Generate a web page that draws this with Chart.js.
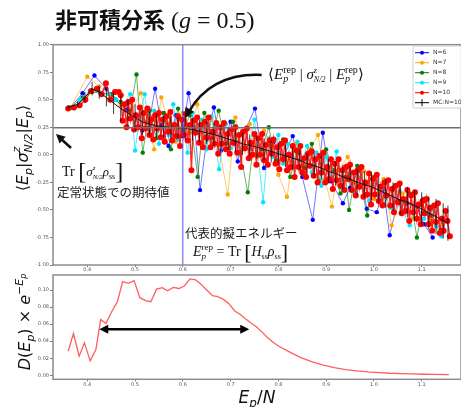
<!DOCTYPE html>
<html><head><meta charset="utf-8">
<script src="https://cdn.jsdelivr.net/npm/chart.js@4.4.1/dist/chart.umd.min.js"></script>
<style>
body{margin:0;background:#fff;width:461px;height:407px;overflow:hidden;position:relative}
#top{position:absolute;left:0;top:0;width:461px;height:275px}
#bot{position:absolute;left:0;top:265px;width:461px;height:142px}
</style></head><body>
<div id="top"><canvas id="c1"></canvas></div>
<div id="bot"><canvas id="c2"></canvas></div>
<script>
// ===== DATA =====
const xTicks = [0.4, 0.5, 0.6, 0.7, 0.8, 0.9, 1.0, 1.1];
const yTicksTop = [-1, -0.75, -0.5, -0.25, 0, 0.25, 0.5, 0.75, 1];
const yTicksBottom = [0, 0.02, 0.04, 0.06, 0.08, 0.10];
const seriesNames = ['N=6', 'N=7', 'N=8', 'N=9', 'N=10', 'MC:N=10'];

// [E_p/N, <E_p|sigma|E_p>]
const n6 = [[0.365,0.43],[0.39,0.56],[0.415,0.72],[0.44,0.60],[0.46,0.50],[0.48,0.41],[0.50,0.36],[0.515,0.22],[0.53,0.31],[0.542,0.60],[0.555,0.27],[0.57,0.08],[0.585,0.36],[0.598,0.17],[0.612,0.56],[0.625,0.24],[0.636,-0.32],[0.65,0.14],[0.665,0.43],[0.68,0.04],[0.70,0.30],[0.715,-0.06],[0.73,0.22],[0.751,0.42],[0.77,-0.12],[0.79,0.12],[0.81,-0.03],[0.83,0.17],[0.85,-0.20],[0.872,-0.59],[0.893,0.20],[0.91,-0.24],[0.935,-0.44],[0.95,-0.30],[0.97,-0.12],[0.985,-0.49],[1.006,-0.52],[1.02,-0.31],[1.033,-0.73],[1.05,-0.42],[1.07,-0.44],[1.09,-0.47],[1.105,-0.63],[1.123,-0.75]];
const n7 = [[0.365,0.43],[0.40,0.71],[0.425,0.62],[0.45,0.52],[0.47,0.45],[0.49,0.38],[0.512,0.56],[0.525,0.30],[0.54,0.05],[0.555,0.52],[0.57,0.28],[0.585,0.12],[0.60,0.38],[0.615,0.20],[0.63,0.46],[0.645,0.10],[0.66,0.32],[0.675,0.08],[0.694,-0.36],[0.71,0.34],[0.725,0.05],[0.74,0.28],[0.755,-0.02],[0.77,0.22],[0.785,0.08],[0.80,-0.18],[0.818,-0.38],[0.835,0.10],[0.85,-0.10],[0.865,0.05],[0.883,0.18],[0.897,-0.22],[0.912,-0.47],[0.925,-0.14],[0.945,-0.02],[0.96,-0.25],[0.98,-0.15],[1.00,-0.40],[1.02,-0.22],[1.037,-0.64],[1.06,-0.35],[1.08,-0.58],[1.10,-0.45],[1.12,-0.60],[1.14,-0.70]];
const n8 = [[0.365,0.43],[0.39,0.52],[0.41,0.57],[0.43,0.56],[0.45,0.55],[0.47,0.48],[0.49,0.40],[0.503,0.73],[0.516,0.02],[0.53,0.40],[0.545,0.15],[0.56,0.38],[0.575,0.05],[0.59,0.42],[0.60,0.22],[0.615,0.36],[0.631,-0.20],[0.645,0.38],[0.66,0.15],[0.675,0.40],[0.69,0.10],[0.705,0.30],[0.72,0.02],[0.736,-0.34],[0.75,0.18],[0.765,0.05],[0.78,0.25],[0.795,-0.05],[0.81,0.14],[0.825,-0.20],[0.84,0.02],[0.855,-0.12],[0.87,0.10],[0.885,-0.24],[0.90,0.05],[0.915,-0.14],[0.93,-0.35],[0.941,-0.20],[0.948,-0.50],[0.965,-0.10],[0.986,-0.55],[1.00,-0.20],[1.02,-0.45],[1.04,-0.30],[1.06,-0.52],[1.075,-0.35],[1.09,-0.75],[1.105,-0.40],[1.12,-0.55],[1.14,-0.68]];
const n9 = [[0.365,0.43],[0.385,0.50],[0.405,0.58],[0.425,0.57],[0.445,0.55],[0.46,0.50],[0.475,0.45],[0.49,0.55],[0.50,0.04],[0.51,0.35],[0.52,0.55],[0.53,0.22],[0.54,0.40],[0.55,0.10],[0.56,0.30],[0.57,0.18],[0.58,0.46],[0.59,0.14],[0.60,0.30],[0.61,0.02],[0.62,0.38],[0.63,0.20],[0.64,0.32],[0.65,0.05],[0.66,0.35],[0.676,-0.13],[0.69,0.28],[0.70,0.06],[0.71,0.26],[0.72,0.00],[0.73,0.22],[0.74,0.05],[0.75,0.32],[0.768,-0.43],[0.78,0.15],[0.79,-0.02],[0.80,0.18],[0.81,-0.08],[0.82,0.10],[0.83,-0.12],[0.84,0.12],[0.85,-0.05],[0.86,0.08],[0.87,-0.16],[0.88,0.02],[0.89,-0.28],[0.90,-0.02],[0.91,-0.20],[0.922,0.03],[0.93,-0.30],[0.94,-0.12],[0.95,-0.18],[0.96,-0.35],[0.969,-0.15],[0.98,-0.27],[0.99,-0.42],[1.00,-0.25],[1.01,-0.38],[1.02,-0.30],[1.035,-0.48],[1.054,-0.33],[1.06,-0.52],[1.075,-0.64],[1.09,-0.45],[1.105,-0.58],[1.12,-0.50],[1.13,-0.65],[1.141,-0.74]];
const n10 = [[0.360,0.42],[0.372,0.43],[0.384,0.45],[0.396,0.50],[0.408,0.58],[0.420,0.60],[0.430,0.55],[0.439,0.65],[0.448,0.50],[0.458,0.57],[0.466,0.57],
  [0.470,0.54],[0.474,0.31],[0.478,0.46],[0.482,0.25],[0.486,0.48],[0.490,0.33],[0.494,0.50],[0.498,0.23],[0.502,0.36],[0.506,0.25],
  [0.510,0.43],[0.514,0.15],[0.518,0.38],[0.522,0.24],[0.526,0.42],[0.530,0.18],[0.534,0.32],[0.538,0.14],[0.542,0.36],[0.546,0.24],
  [0.550,0.38],[0.554,0.16],[0.558,0.32],[0.562,0.12],[0.566,0.35],[0.570,0.21],[0.574,0.39],[0.578,0.13],[0.582,0.27],[0.586,0.17],
  [0.590,0.35],[0.594,0.08],[0.598,0.32],[0.602,0.18],[0.606,0.37],[0.610,0.13],[0.614,0.27],[0.618,-0.14],[0.622,0.31],[0.626,0.20],
  [0.630,0.34],[0.634,0.11],[0.638,0.27],[0.642,0.07],[0.646,0.30],[0.650,0.16],[0.654,0.34],[0.658,0.07],[0.662,0.21],[0.666,0.10],
  [0.670,0.29],[0.674,0.01],[0.678,0.25],[0.682,0.10],[0.686,0.29],[0.690,0.05],[0.694,0.19],[0.698,0.01],[0.702,0.23],[0.706,0.11],
  [0.710,0.25],[0.714,0.02],[0.718,0.18],[0.722,-0.11],[0.726,0.21],[0.730,0.06],[0.734,0.24],[0.738,-0.03],[0.742,0.11],[0.746,0.00],
  [0.750,0.19],[0.754,-0.09],[0.758,0.15],[0.762,0.00],[0.766,0.19],[0.770,-0.05],[0.774,0.09],[0.778,-0.09],[0.782,0.13],[0.786,0.01],
  [0.790,0.14],[0.794,-0.08],[0.798,0.07],[0.802,-0.13],[0.806,0.10],[0.810,-0.04],[0.814,0.13],[0.818,-0.14],[0.822,0.00],[0.826,-0.11],
  [0.830,0.08],[0.834,-0.20],[0.838,0.04],[0.842,-0.11],[0.846,0.08],[0.850,-0.16],[0.854,-0.03],[0.858,-0.20],[0.862,0.01],[0.866,-0.10],
  [0.870,0.03],[0.874,-0.19],[0.878,-0.04],[0.882,-0.25],[0.886,-0.01],[0.890,-0.16],[0.894,0.02],[0.898,-0.25],[0.902,-0.11],[0.906,-0.22],
  [0.910,-0.04],[0.914,-0.31],[0.918,-0.08],[0.922,-0.23],[0.926,-0.04],[0.930,-0.28],[0.934,-0.14],[0.938,-0.32],[0.942,-0.11],[0.946,-0.22],
  [0.950,-0.09],[0.954,-0.32],[0.958,-0.16],[0.962,-0.37],[0.966,-0.14],[0.970,-0.29],[0.974,-0.11],[0.978,-0.38],[0.982,-0.25],[0.986,-0.36],
  [0.990,-0.17],[0.994,-0.45],[0.998,-0.22],[1.002,-0.36],[1.006,-0.18],[1.010,-0.42],[1.014,-0.29],[1.018,-0.46],[1.022,-0.25],[1.026,-0.37],
  [1.030,-0.23],[1.034,-0.46],[1.038,-0.31],[1.042,-0.52],[1.046,-0.28],[1.050,-0.43],[1.054,-0.26],[1.058,-0.53],[1.062,-0.40],[1.066,-0.51],
  [1.070,-0.32],[1.074,-0.60],[1.078,-0.37],[1.082,-0.52],[1.086,-0.34],[1.090,-0.58],[1.094,-0.45],[1.098,-0.63],[1.102,-0.42],[1.106,-0.53],
  [1.110,-0.40],[1.114,-0.63],[1.118,-0.48],[1.122,-0.69],[1.126,-0.46],[1.130,-0.61],[1.134,-0.44],[1.138,-0.71],[1.142,-0.58],[1.146,-0.69],
  [1.150,-0.51],[1.154,-0.60],[1.159,-0.74]];
// MC N=10: [E_p/N, mean, error]
const mc = [[0.360,0.43,0.02],[0.380,0.46,0.03],[0.395,0.52,0.05],[0.410,0.60,0.06],[0.425,0.57,0.06],[0.440,0.52,0.08],[0.455,0.47,0.10],[0.470,0.42,0.12],[0.485,0.38,0.12],[0.500,0.34,0.12],[0.515,0.30,0.12],[0.530,0.28,0.11],[0.545,0.265,0.11],[0.560,0.255,0.10],[0.575,0.25,0.10],[0.590,0.245,0.10],[0.605,0.24,0.10],[0.620,0.23,0.10],[0.635,0.215,0.10],[0.650,0.20,0.10],[0.665,0.185,0.10],[0.680,0.165,0.10],[0.695,0.145,0.10],[0.710,0.125,0.10],[0.725,0.10,0.10],[0.740,0.085,0.10],[0.755,0.07,0.10],[0.770,0.05,0.10],[0.785,0.03,0.10],[0.800,0.01,0.10],[0.815,-0.01,0.10],[0.830,-0.03,0.10],[0.845,-0.05,0.10],[0.860,-0.08,0.10],[0.875,-0.10,0.11],[0.890,-0.12,0.11],[0.905,-0.15,0.11],[0.920,-0.17,0.11],[0.935,-0.20,0.11],[0.950,-0.22,0.12],[0.965,-0.25,0.12],[0.980,-0.27,0.12],[0.995,-0.29,0.12],[1.010,-0.32,0.12],[1.025,-0.35,0.13],[1.040,-0.38,0.13],[1.055,-0.41,0.13],[1.070,-0.43,0.14],[1.085,-0.46,0.14],[1.100,-0.49,0.15],[1.115,-0.53,0.15],[1.130,-0.56,0.16],[1.145,-0.60,0.16],[1.155,-0.62,0.16]];
const ssValue = 0.245;   // Tr[sigma rho_ss]
const repEnergy = 0.6;   // E_p^rep / N

// D(E_p) x e^{-E_p}
const densX = [0.360,0.371,0.383,0.394,0.406,0.418,0.428,0.439,0.451,0.463,0.474,0.486,0.498,0.510,0.522,0.533,0.545,0.557,0.568,0.580,0.592,0.603,0.615,0.627,0.638,0.650,0.662,0.673,0.685,0.696,0.708,0.719,0.731,0.742,0.754,0.766,0.777,0.789,0.801,0.824,0.847,0.871,0.894,0.917,0.941,0.964,0.987,1.010,1.033,1.056,1.080,1.103,1.126,1.157];
const densY = [0.0282,0.0490,0.0224,0.0380,0.0169,0.0302,0.0655,0.0608,0.0745,0.0863,0.1098,0.1078,0.1110,0.0910,0.0875,0.0863,0.1010,0.1027,0.0992,0.1031,0.1018,0.1047,0.1130,0.1118,0.1067,0.1000,0.0933,0.0922,0.0890,0.0843,0.0757,0.0718,0.0663,0.0616,0.0569,0.0506,0.0443,0.0388,0.0341,0.0271,0.0208,0.0157,0.0118,0.0090,0.0067,0.0051,0.0039,0.0031,0.0024,0.0020,0.0016,0.0012,0.0010,0.0008];

// ===== STYLE =====
const colors = ['#0000ff', '#ffa500', '#008000', '#00e5ff', '#ff0000', '#000000'];
const lineColors = ['rgba(0,0,255,0.55)', 'rgba(255,165,0,0.6)', 'rgba(0,128,0,0.6)', 'rgba(0,229,255,0.7)', 'rgba(255,0,0,0.85)'];
const SERIF = '"Liberation Serif"', SANS = '"DejaVu Sans"', JP = '"Noto Sans CJK JP"';

const P = (t, f, dy, keep) => ({ t, f, dy: dy || 0, keep });
function rich(ctx, x, y, parts, align) {
  let w = 0, kw = 0;
  parts.forEach(p => {
    ctx.font = p.f; p.w = ctx.measureText(p.t).width;
    if (p.keep) kw = p.w; else { p.adv = Math.max(p.w, kw); kw = 0; w += p.adv; }
  });
  let cx = align === 'center' ? x - w / 2 : x;
  ctx.textAlign = 'left';
  parts.forEach(p => {
    ctx.font = p.f; ctx.fillText(p.t, cx, y + p.dy);
    if (!p.keep) cx += p.adv;
  });
}
function arrowHead(ctx, x, y, ang, len, wid) {
  ctx.save(); ctx.translate(x, y); ctx.rotate(ang);
  ctx.beginPath(); ctx.moveTo(0, 0); ctx.lineTo(-len, -wid); ctx.lineTo(-len, wid); ctx.closePath();
  ctx.fill(); ctx.restore();
}
function frame(ctx, a) {
  ctx.save(); ctx.strokeStyle = '#8c8c8c'; ctx.lineWidth = 1.5;
  ctx.strokeRect(a.left, a.top, a.right - a.left, a.bottom - a.top); ctx.restore();
}
const noPad = s => { s.paddingLeft = 0; s.paddingRight = 0; s.paddingTop = 0; s.paddingBottom = 0; };

function xScale(fit) {
  return {
    type: 'linear', min: 0.3282, max: 1.1823,
    afterBuildTicks: s => { s.ticks = xTicks.map(v => ({ value: v })); },
    afterFit: s => { s.height = fit; noPad(s); },
    ticks: { font: { size: 5, family: 'DejaVu Sans' }, color: '#555', padding: 0, maxRotation: 0, autoSkip: false, callback: v => v.toFixed(1) },
    grid: { drawOnChartArea: false, tickLength: 2, color: '#777' },
    border: { display: false }
  };
}
function yScale(min, max, ticks) {
  return {
    type: 'linear', min, max,
    afterBuildTicks: s => { s.ticks = ticks.map(v => ({ value: v })); },
    afterFit: s => { s.width = 53; noPad(s); },
    ticks: { font: { size: 5, family: 'DejaVu Sans' }, color: '#555', padding: 1, autoSkip: false, callback: v => v.toFixed(2) },
    grid: { drawOnChartArea: false, tickLength: 3, color: '#777' },
    border: { display: false }
  };
}

const series = [n6, n7, n8, n9, n10];
const datasets = [{
  label: seriesNames[5],
  data: mc.map(([x, y]) => ({ x, y })),
  borderColor: '#111', borderWidth: 1, pointRadius: 0
}];
for (let i = 4; i >= 0; i--) {
  datasets.push({
    label: seriesNames[i],
    data: series[i].map(([x, y]) => ({ x, y })),
    borderColor: lineColors[i], borderWidth: i === 4 ? 1.4 : 1,
    pointRadius: i === 4 ? 3 : 2.2, pointBackgroundColor: colors[i], pointBorderWidth: 0
  });
}

const topDecor = {
  id: 'topDecor',
  afterDatasetsDraw(chart) {
    const { ctx, chartArea: a, scales: { x, y } } = chart;
    ctx.save();
    // error bars
    ctx.strokeStyle = 'rgba(0,0,0,0.75)'; ctx.lineWidth = 1;
    mc.forEach(([mx, my, e]) => {
      const px = x.getPixelForValue(mx);
      ctx.beginPath(); ctx.moveTo(px, y.getPixelForValue(my - e)); ctx.lineTo(px, y.getPixelForValue(my + e)); ctx.stroke();
    });
    // reference lines
    ctx.strokeStyle = '#707070'; ctx.lineWidth = 1.5;
    const hy = y.getPixelForValue(ssValue);
    ctx.beginPath(); ctx.moveTo(a.left, hy); ctx.lineTo(a.right, hy); ctx.stroke();
    ctx.strokeStyle = 'rgba(40,40,255,0.8)'; ctx.lineWidth = 1;
    const vx = x.getPixelForValue(repEnergy);
    ctx.beginPath(); ctx.moveTo(vx, a.top); ctx.lineTo(vx, a.bottom); ctx.stroke();
    ctx.restore();
    frame(ctx, a);

    ctx.save();
    ctx.fillStyle = '#111'; ctx.strokeStyle = '#111';
    // title
    ctx.textBaseline = 'alphabetic';
    rich(ctx, 55, 28, [P('非可積分系', `bold 22px ${JP}`), P(' (', `24px ${SERIF}`), P('g', `italic 24px ${SERIF}`), P(' = 0.5)', `24px ${SERIF}`)]);
    // curved arrow to representative point
    const sx = x.getPixelForValue(0.765), sy = y.getPixelForValue(0.725);
    const ex = x.getPixelForValue(0.604), ey = y.getPixelForValue(0.335);
    const cx = x.getPixelForValue(0.66), cy = y.getPixelForValue(0.745);
    ctx.lineWidth = 2.5;
    ctx.beginPath(); ctx.moveTo(sx, sy); ctx.quadraticCurveTo(cx, cy, ex + 4, ey - 6); ctx.stroke();
    arrowHead(ctx, ex, ey, Math.atan2(ey - cy, ex - cx), 10, 5);
    rich(ctx, 268, 79, [P('⟨', `15px ${SERIF}`), P('E', `italic 15px ${SERIF}`), P('rep', `10px ${SERIF}`, -6, true), P('p', `italic 10px ${SERIF}`, 3),
      P(' | ', `15px ${SERIF}`), P('σ', `italic 15px ${SERIF}`), P('z', `italic 8px ${SERIF}`, -6, true), P('N/2', `italic 8px ${SERIF}`, 3),
      P(' | ', `15px ${SERIF}`), P('E', `italic 15px ${SERIF}`), P('rep', `10px ${SERIF}`, -6, true), P('p', `italic 10px ${SERIF}`, 3), P('⟩', `15px ${SERIF}`)]);
    // straight arrow to the stationary-state line
    const tx = x.getPixelForValue(0.3345), ty = y.getPixelForValue(0.189);
    const fx = x.getPixelForValue(0.366), fy = y.getPixelForValue(0.062);
    ctx.beginPath(); ctx.moveTo(fx, fy); ctx.lineTo(tx + 4, ty + 4); ctx.stroke();
    arrowHead(ctx, tx, ty, Math.atan2(ty - fy, tx - fx), 9, 4.5);
    rich(ctx, 62, 176, [P('Tr ', `14px ${SERIF}`), P('[', `24px ${SERIF}`, 3), P('σ', `italic 13px ${SERIF}`), P('z', `italic 7px ${SERIF}`, -6, true), P('N/2', `italic 7px ${SERIF}`, 3),
      P('ρ', `italic 13px ${SERIF}`), P('ss', `8px ${SERIF}`, 3), P(']', `24px ${SERIF}`, 3)]);
    ctx.fillStyle = '#222';
    rich(ctx, 57, 197, [P('定常状態での期待値', `12.5px ${JP}`)]);
    rich(ctx, 185, 238, [P('代表的擬エネルギー', `12.5px ${JP}`)]);
    ctx.fillStyle = '#111';
    rich(ctx, 193, 256, [P('E', `italic 14px ${SERIF}`), P('rep', `9px ${SERIF}`, -6, true), P('p', `italic 9px ${SERIF}`, 3), P(' = Tr ', `14px ${SERIF}`),
      P('[', `22px ${SERIF}`, 3), P('H', `italic 14px ${SERIF}`), P('ss', `8px ${SERIF}`, 3), P('ρ', `italic 14px ${SERIF}`), P('ss', `8px ${SERIF}`, 3), P(']', `22px ${SERIF}`, 3)]);
    // y label
    ctx.translate(28, 148); ctx.rotate(-Math.PI / 2);
    rich(ctx, 0, 0, [P('⟨', `16px ${SANS}`), P('E', `italic 16px ${SANS}`), P('p', `italic 11px ${SANS}`, 4), P('|', `16px ${SANS}`),
      P('σ', `italic 16px ${SANS}`), P('z', `italic 11px ${SANS}`, -8, true), P('N/2', `italic 11px ${SANS}`, 4), P('|', `16px ${SANS}`),
      P('E', `italic 16px ${SANS}`), P('p', `italic 11px ${SANS}`, 4), P('⟩', `16px ${SANS}`)], 'center');
    ctx.restore();

    // legend
    ctx.save();
    const lx = 413, ly = 46;
    ctx.fillStyle = 'rgba(255,255,255,0.85)'; ctx.strokeStyle = '#cfcfcf'; ctx.lineWidth = 1;
    ctx.beginPath(); ctx.roundRect(lx, ly, 60, 62, 2); ctx.fill(); ctx.stroke();
    seriesNames.forEach((n, i) => {
      const yy = ly + 6.7 + i * 10;
      ctx.strokeStyle = colors[i]; ctx.fillStyle = colors[i]; ctx.lineWidth = 1;
      ctx.beginPath(); ctx.moveTo(lx + 2, yy); ctx.lineTo(lx + 16, yy); ctx.stroke();
      if (i < 5) { ctx.beginPath(); ctx.arc(lx + 9, yy, 2, 0, Math.PI * 2); ctx.fill(); }
      else { ctx.beginPath(); ctx.moveTo(lx + 9, yy - 3.5); ctx.lineTo(lx + 9, yy + 3.5); ctx.stroke(); }
      ctx.fillStyle = '#333'; ctx.font = `6px ${SANS}`; ctx.textBaseline = 'middle'; ctx.textAlign = 'left';
      ctx.fillText(n, lx + 20, yy);
    });
    ctx.restore();
  }
};

new Chart(document.getElementById('c1'), {
  type: 'line',
  data: { datasets },
  options: {
    responsive: true, maintainAspectRatio: false, animation: false,
    layout: { autoPadding: false, padding: { top: 44.7, left: 0, right: 0, bottom: 0 } },
    plugins: { legend: { display: false }, tooltip: { enabled: false } },
    scales: { x: xScale(10), y: yScale(-1, 1, yTicksTop) }
  },
  plugins: [topDecor]
});

const botDecor = {
  id: 'botDecor',
  afterDatasetsDraw(chart) {
    const { ctx, chartArea: a, scales: { x, y } } = chart;
    frame(ctx, a);
    ctx.save();
    ctx.fillStyle = '#000'; ctx.strokeStyle = '#000'; ctx.lineWidth = 2.5;
    const x1 = x.getPixelForValue(0.425), x2 = x.getPixelForValue(0.739), yy = y.getPixelForValue(0.054);
    ctx.beginPath(); ctx.moveTo(x1 + 6, yy); ctx.lineTo(x2 - 6, yy); ctx.stroke();
    arrowHead(ctx, x1, yy, Math.PI, 9, 4.5);
    arrowHead(ctx, x2, yy, 0, 9, 4.5);
    ctx.fillStyle = '#111';
    rich(ctx, 257, 138, [P('E', `italic 17px ${SANS}`), P('p', `italic 12px ${SANS}`, 4), P('/', `17px ${SANS}`), P('N', `italic 17px ${SANS}`)], 'center');
    ctx.translate(30, 57); ctx.rotate(-Math.PI / 2);
    rich(ctx, 0, 0, [P('D', `italic 16px ${SANS}`), P('(', `16px ${SANS}`), P('E', `italic 16px ${SANS}`), P('p', `italic 11px ${SANS}`, 4), P(')', `16px ${SANS}`),
      P(' × ', `16px ${SANS}`), P('e', `italic 16px ${SANS}`), P('−E', `italic 11px ${SANS}`, -7), P('p', `italic 8px ${SANS}`, -4)], 'center');
    ctx.restore();
  }
};

new Chart(document.getElementById('c2'), {
  type: 'line',
  data: {
    datasets: [{
      data: densX.map((v, i) => ({ x: v, y: densY[i] })),
      borderColor: 'rgba(255,40,40,0.75)', borderWidth: 1.3, pointRadius: 0
    }]
  },
  options: {
    responsive: true, maintainAspectRatio: false, animation: false,
    layout: { autoPadding: false, padding: { top: 10, left: 0, right: 0, bottom: 15.7 } },
    plugins: { legend: { display: false }, tooltip: { enabled: false } },
    scales: { x: xScale(12), y: yScale(-0.0047, 0.1176, yTicksBottom) }
  },
  plugins: [botDecor]
});
</script>
</body></html>
